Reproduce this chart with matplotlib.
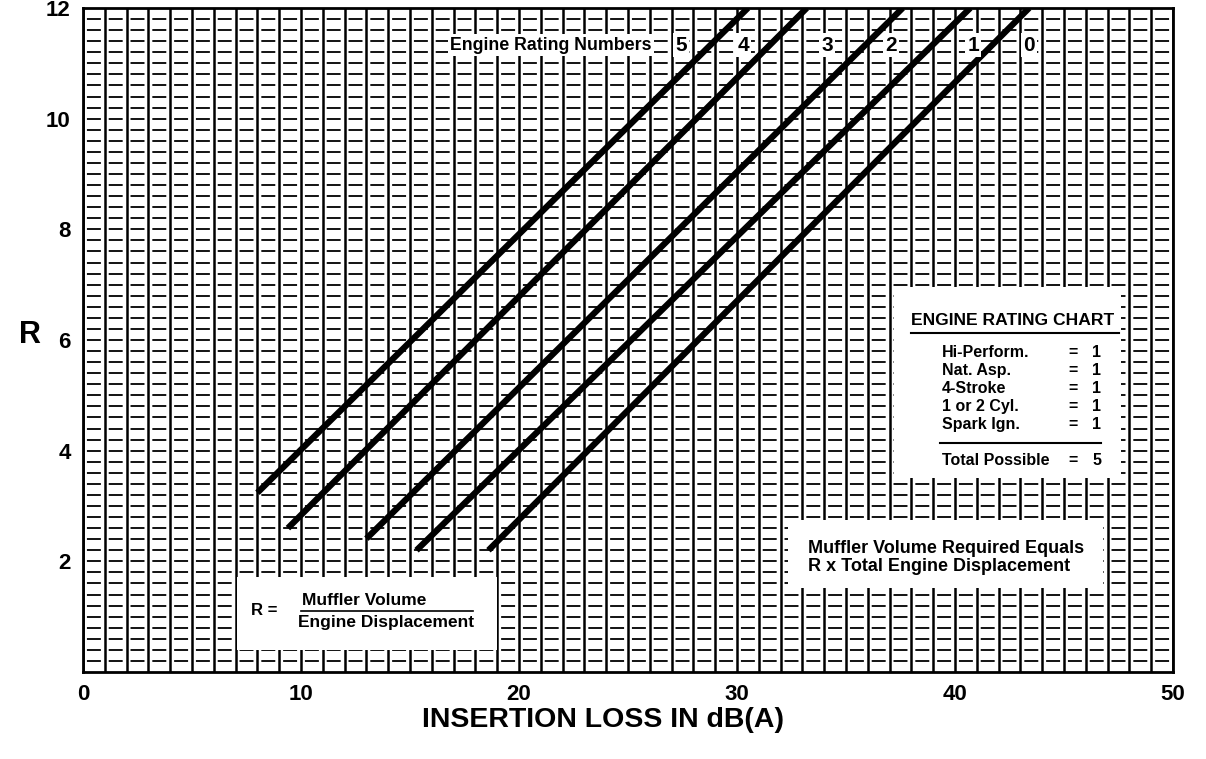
import numpy as np
import matplotlib
matplotlib.use("Agg")
import matplotlib.pyplot as plt
from matplotlib.patches import Rectangle

plt.rcParams["lines.scale_dashes"] = False
plt.rcParams["font.family"] = ["Liberation Sans", "DejaVu Sans"]

# ---- data -------------------------------------------------------------
# Boundary lines between engine rating numbers (start point, end at top edge)
start_db = [8.0, 9.4, 13.0, 15.3, 18.6]
start_R = [3.24, 2.60, 2.41, 2.20, 2.20]
end_db = [30.5, 33.2, 37.6, 40.7, 43.4]
end_R = [12.0, 12.0, 12.0, 12.0, 12.0]

rating_numbers = ["5", "4", "3", "2", "1", "0"]
rating_label_db = [27.43, 30.28, 34.13, 37.06, 40.83, 43.39]

x_ticks = [0, 10, 20, 30, 40, 50]
y_ticks = [2, 4, 6, 8, 10, 12]

chart_items = ["Hi-Perform.", "Nat. Asp.", "4-Stroke", "1 or 2 Cyl.", "Spark Ign."]
chart_points = [1, 1, 1, 1, 1]
total_possible = 5

# ---- figure -----------------------------------------------------------
W, H = 1206, 759
fig = plt.figure(figsize=(W / 100, H / 100), dpi=100)
ax_l, ax_r, ax_t, ax_b = 83, 1173, 8, 672
ax = fig.add_axes([ax_l / W, 1 - ax_b / H, (ax_r - ax_l) / W, (ax_b - ax_t) / H])
ax.set_xlim(0, 50)
ax.set_ylim(0, 12)

# graph-paper grid: solid verticals every 1 dB, broken horizontals every 0.2
ax.vlines(np.arange(0, 51), 0, 12, color="black", lw=1.8, zorder=1)
period = (ax_r - ax_l) / 100 * 72 / 50
on, off = 0.64 * period, 0.36 * period
ax.hlines(np.arange(1, 60) * 0.2, 0, 50, color="black", lw=1.3, zorder=1,
          linestyles=[(on + off / 2, (on, off))])

# blank panels for the annotations
for (x0, y0, x1, y1) in [(37.2, 3.5, 47.6, 6.95),
                         (7.06, 0.40, 18.99, 1.72),
                         (32.34, 1.52, 46.79, 2.75)]:
    ax.add_patch(Rectangle((x0, y0), x1 - x0, y1 - y0, facecolor="white",
                           edgecolor="none", zorder=2))

# rating boundary lines
for xs, ys, xe, ye in zip(start_db, start_R, end_db, end_R):
    ax.plot([xs, xe], [ys, ye], color="black", lw=4.5, solid_capstyle="butt",
            zorder=3)

# rating numbers along the top
bb = dict(facecolor="white", edgecolor="none", pad=1.5)
ax.text(16.83, 11.33, "Engine Rating Numbers", fontsize=12.8, fontweight="bold",
        ha="left", va="center", bbox=bb, zorder=4)
for lab, xd in zip(rating_numbers, rating_label_db):
    ax.text(xd, 11.33, lab, fontsize=15, fontweight="bold", ha="center",
            va="center", bbox=bb, zorder=4)

# engine rating chart
ax.text(38.0, 6.36, "ENGINE RATING CHART", fontsize=12.6, fontweight="bold",
        ha="left", va="center", zorder=4)
ax.plot([38.0, 47.5], [6.13, 6.13], color="black", lw=1.5, zorder=4)
row_y = [5.78, 5.45, 5.12, 4.80, 4.47]
for item, pts, yy in zip(chart_items, chart_points, row_y):
    ax.text(39.4, yy, item, fontsize=11.5, fontweight="bold", ha="left",
            va="center", zorder=4)
    ax.text(45.4, yy, "=", fontsize=11.5, fontweight="bold", ha="center",
            va="center", zorder=4)
    ax.text(46.7, yy, str(pts), fontsize=11.5, fontweight="bold", ha="right",
            va="center", zorder=4)
ax.plot([39.3, 46.7], [4.14, 4.14], color="black", lw=1.5, zorder=4)
ax.text(39.4, 3.83, "Total Possible", fontsize=11.5, fontweight="bold",
        ha="left", va="center", zorder=4)
ax.text(45.4, 3.83, "=", fontsize=11.5, fontweight="bold", ha="center",
        va="center", zorder=4)
ax.text(46.7, 3.83, str(total_possible), fontsize=11.5, fontweight="bold",
        ha="right", va="center", zorder=4)

# definition of R
ax.text(8.3, 1.12, "R =", fontsize=12, fontweight="bold", ha="center",
        va="center", zorder=4)
ax.text(10.05, 1.29, "Muffler Volume", fontsize=12.5, fontweight="bold",
        ha="left", va="center", zorder=4)
ax.plot([10.0, 17.9], [1.11, 1.11], color="black", lw=1.2, zorder=4)
ax.text(9.86, 0.89, "Engine Displacement", fontsize=12.5, fontweight="bold",
        ha="left", va="center", zorder=4)

# required volume note
ax.text(33.26, 2.24, "Muffler Volume Required Equals", fontsize=13,
        fontweight="bold", ha="left", va="center", zorder=4)
ax.text(33.26, 1.90, "R x Total Engine Displacement", fontsize=13,
        fontweight="bold", ha="left", va="center", zorder=4)

# axes styling
for s in ax.spines.values():
    s.set_linewidth(2.0)
    s.set_zorder(5)
ax.set_xticks(x_ticks)
ax.set_yticks(y_ticks)
ax.tick_params(length=0, labelsize=16, pad=9)
for t in ax.get_xticklabels() + ax.get_yticklabels():
    t.set_fontweight("bold")

fig.text(30 / W, 1 - 335 / H, "R", fontsize=22, fontweight="bold",
         ha="center", va="center")
fig.text(603 / W, 1 - 720 / H, "INSERTION LOSS IN dB(A)", fontsize=20.5,
         fontweight="bold", ha="center", va="center")

fig.savefig("out.png", dpi=100, facecolor="white")
